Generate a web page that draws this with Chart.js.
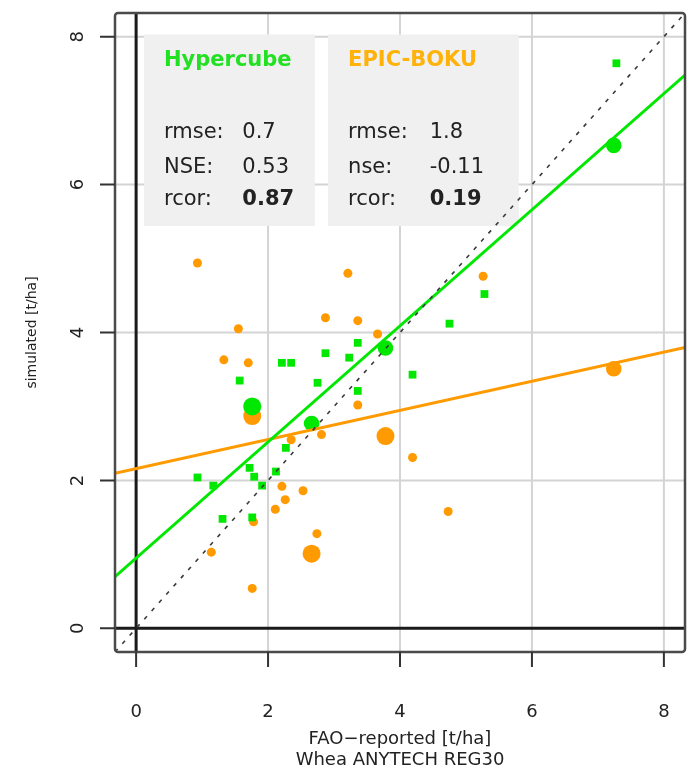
<!DOCTYPE html>
<html>
<head>
<meta charset="utf-8">
<script src="https://cdn.jsdelivr.net/npm/chart.js@4/dist/chart.umd.min.js"></script>
<style>
  html, body { margin: 0; padding: 0; background: #fff; }
  #wrap { width: 694px; height: 770px; }
</style>
</head>
<body>
<div id="wrap"><canvas id="myChart" width="694" height="770"></canvas></div>
<script>
// axis
const axisTicks = [0, 2, 4, 6, 8];
const axisMin = -0.32;
const axisMax = 8.32;
const xTitle = ['FAO\u2212reported [t/ha]', 'Whea ANYTECH REG30'];
const yTitle = 'simulated [t/ha]';

// Hypercube (green): FAO-reported vs simulated, w = weight class
const hyperX = [0.93, 1.17, 1.31, 1.57, 1.72, 1.76, 1.76, 1.79, 1.91, 2.12, 2.21, 2.35, 2.27,
  2.66, 2.75, 2.87, 3.23, 3.36, 3.36, 3.78, 4.19, 4.75, 5.28, 7.24, 7.28];
const hyperY = [2.04, 1.93, 1.48, 3.35, 2.17, 1.50, 3.00, 2.05, 1.93, 2.12, 3.59, 3.59, 2.44,
  2.77, 3.32, 3.72, 3.66, 3.86, 3.21, 3.79, 3.43, 4.12, 4.52, 6.53, 7.64];
const hyperW = [1, 1, 1, 1, 1, 1, 4, 1, 1, 1, 1, 1, 1,
  3, 1, 1, 1, 1, 1, 3, 1, 1, 1, 3, 1];

// EPIC-BOKU (orange)
const epicX = [0.93, 1.14, 1.33, 1.55, 1.70, 1.76, 1.78, 1.76, 2.11, 2.21, 2.26, 2.35, 2.53,
  2.66, 2.74, 2.81, 2.87, 3.21, 3.36, 3.36, 3.66, 3.78, 4.19, 4.73, 5.26, 7.24];
const epicY = [4.94, 1.03, 3.63, 4.05, 3.59, 2.87, 1.44, 0.54, 1.61, 1.92, 1.74, 2.55, 1.86,
  1.01, 1.28, 2.62, 4.20, 4.80, 4.16, 3.02, 3.98, 2.60, 2.31, 1.58, 4.76, 3.51];
const epicW = [1, 1, 1, 1, 1, 4, 1, 1, 1, 1, 1, 1, 1,
  4, 1, 1, 1, 1, 1, 1, 1, 4, 1, 1, 1, 3];

// regression fits
const hyperFit = { intercept: 0.95, slope: 0.785 };
const epicFit = { intercept: 2.16, slope: 0.197 };

// statistics boxes
const hyperName = 'Hypercube';
const hyperLabels = ['rmse:', 'NSE:', 'rcor:'];
const hyperStats = ['0.7', '0.53', '0.87'];
const epicName = 'EPIC-BOKU';
const epicLabels = ['rmse:', 'nse:', 'rcor:'];
const epicStats = ['1.8', '-0.11', '0.19'];

const GREEN = '#00e800';
const ORANGE = '#ff9a00';
const FONT = '"DejaVu Sans", sans-serif';

function fitLine(fit) {
  return [axisMin, axisMax].map(x => ({ x: x, y: fit.intercept + fit.slope * x }));
}

const rframe = {
  id: 'rframe',
  beforeDatasetsDraw(chart) {
    const { ctx, chartArea: a, scales: { x, y } } = chart;
    ctx.save();
    ctx.beginPath();
    ctx.rect(a.left, a.top, a.right - a.left, a.bottom - a.top);
    ctx.clip();
    ctx.strokeStyle = '#d4d4d4';
    ctx.lineWidth = 2;
    axisTicks.forEach(t => {
      if (t === 0) return;
      ctx.beginPath();
      ctx.moveTo(x.getPixelForValue(t), a.top);
      ctx.lineTo(x.getPixelForValue(t), a.bottom);
      ctx.moveTo(a.left, y.getPixelForValue(t));
      ctx.lineTo(a.right, y.getPixelForValue(t));
      ctx.stroke();
    });
    ctx.strokeStyle = '#1a1a1a';
    ctx.lineWidth = 3;
    ctx.beginPath();
    ctx.moveTo(x.getPixelForValue(0), a.top);
    ctx.lineTo(x.getPixelForValue(0), a.bottom);
    ctx.moveTo(a.left, y.getPixelForValue(0));
    ctx.lineTo(a.right, y.getPixelForValue(0));
    ctx.stroke();

    // stats boxes (under the marks)
    const box = (x0, x1, name, color, labels, stats, valX) => {
      const l = x.getPixelForValue(x0), r = x.getPixelForValue(x1);
      const t = y.getPixelForValue(8.03), b = y.getPixelForValue(5.44);
      ctx.fillStyle = '#f0f0f0';
      ctx.fillRect(l, t, r - l, b - t);
      ctx.textBaseline = 'alphabetic';
      ctx.textAlign = 'left';
      ctx.fillStyle = color;
      ctx.font = 'bold 21px ' + FONT;
      ctx.fillText(name, l + 20, y.getPixelForValue(7.6));
      const rows = [6.63, 6.16, 5.72];
      labels.forEach((lab, i) => {
        ctx.fillStyle = '#222';
        ctx.font = '21px ' + FONT;
        ctx.fillText(lab, l + 20, y.getPixelForValue(rows[i]));
        if (i === 2) ctx.font = 'bold 21px ' + FONT;
        ctx.fillText(stats[i], x.getPixelForValue(valX), y.getPixelForValue(rows[i]));
      });
    };
    box(0.12, 2.71, hyperName, '#22e022', hyperLabels, hyperStats, 1.61);
    box(2.91, 5.80, epicName, '#ffb20a', epicLabels, epicStats, 4.45);
    ctx.restore();
  },
  afterDraw(chart) {
    const { ctx, chartArea: a, scales: { x, y } } = chart;
    ctx.save();
    // plot box
    ctx.strokeStyle = '#4a4a4a';
    ctx.lineWidth = 2.5;
    ctx.beginPath();
    ctx.roundRect(a.left, a.top, a.right - a.left, a.bottom - a.top, 3);
    ctx.stroke();
    // ticks
    ctx.strokeStyle = '#333';
    ctx.lineWidth = 2;
    ctx.beginPath();
    axisTicks.forEach(t => {
      const px = x.getPixelForValue(t), py = y.getPixelForValue(t);
      ctx.moveTo(px, a.bottom);
      ctx.lineTo(px, a.bottom + 15);
      ctx.moveTo(a.left, py);
      ctx.lineTo(a.left - 15, py);
    });
    ctx.stroke();
    ctx.fillStyle = '#222';
    ctx.font = '18px ' + FONT;
    ctx.textAlign = 'center';
    ctx.textBaseline = 'middle';
    axisTicks.forEach(t => {
      ctx.fillText(String(t), x.getPixelForValue(t), a.bottom + 60);
      ctx.save();
      ctx.translate(a.left - 37, y.getPixelForValue(t));
      ctx.rotate(-Math.PI / 2);
      ctx.fillText(String(t), 0, 0);
      ctx.restore();
    });
    // titles
    const cx = (a.left + a.right) / 2;
    ctx.font = '18px ' + FONT;
    ctx.fillText(xTitle[0], cx, a.bottom + 87);
    ctx.fillText(xTitle[1], cx, a.bottom + 108);
    ctx.save();
    ctx.translate(a.left - 83, (a.top + a.bottom) / 2);
    ctx.rotate(-Math.PI / 2);
    ctx.font = '14px ' + FONT;
    ctx.fillText(yTitle, 0, 0);
    ctx.restore();
    ctx.restore();
  }
};

const ptRadius = w => ctx => 4.5 * Math.sqrt(w[ctx.dataIndex]);

new Chart(document.getElementById('myChart'), {
  type: 'scatter',
  data: {
    datasets: [
      {
        label: '1:1',
        type: 'line',
        data: [{ x: axisMin, y: axisMin }, { x: axisMax, y: axisMax }],
        borderColor: '#3a3a3a',
        borderWidth: 1.6,
        borderDash: [4, 7],
        pointRadius: 0,
        order: 0
      },
      {
        label: 'Hypercube fit',
        type: 'line',
        data: fitLine(hyperFit),
        borderColor: GREEN,
        borderWidth: 3,
        pointRadius: 0,
        order: 1
      },
      {
        label: 'EPIC-BOKU fit',
        type: 'line',
        data: fitLine(epicFit),
        borderColor: ORANGE,
        borderWidth: 3,
        pointRadius: 0,
        order: 2
      },
      {
        label: hyperName,
        data: hyperX.map((v, i) => ({ x: v, y: hyperY[i] })),
        backgroundColor: GREEN,
        borderWidth: 0,
        pointStyle: ctx => hyperW[ctx.dataIndex] > 1 ? 'circle' : 'rect',
        pointRadius: ctx => hyperW[ctx.dataIndex] > 1 ? 4.5 * Math.sqrt(hyperW[ctx.dataIndex]) : 5.5,
        order: 3
      },
      {
        label: epicName,
        data: epicX.map((v, i) => ({ x: v, y: epicY[i] })),
        backgroundColor: ORANGE,
        borderWidth: 0,
        pointRadius: ptRadius(epicW),
        order: 4
      }
    ]
  },
  options: {
    responsive: false,
    animation: false,
    layout: { padding: { left: 115, right: 4, top: 13, bottom: 118 } },
    plugins: { legend: { display: false }, tooltip: { enabled: false } },
    scales: {
      x: { type: 'linear', min: axisMin, max: axisMax, display: false },
      y: { type: 'linear', min: axisMin, max: axisMax, display: false }
    }
  },
  plugins: [rframe]
});
</script>
</body>
</html>
